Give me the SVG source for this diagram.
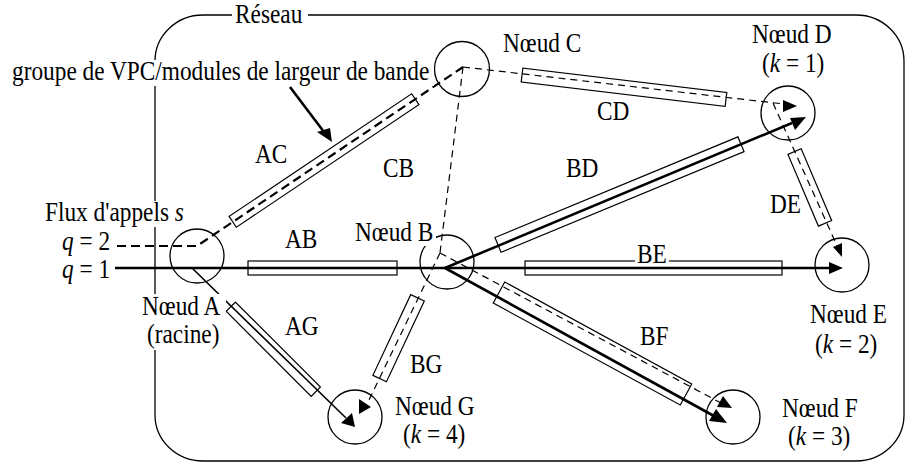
<svg xmlns="http://www.w3.org/2000/svg" width="909" height="463" viewBox="0 0 909 463">
<style>
.frame{fill:none;stroke:#000;stroke-width:1.3}
.n circle{fill:none;stroke:#000;stroke-width:1.3}
.t{font-family:"Liberation Serif","Times New Roman",serif;font-size:26.5px;fill:#000}
.i{font-style:italic}
.bg{fill:#fff}
.bar{fill:none;stroke:#000;stroke-width:1.2}
.ln{fill:none;stroke:#000}
.thin{stroke-width:1.2;stroke-dasharray:7 5}
.q2{stroke-width:2.2;stroke-dasharray:9 5}
.q1{stroke-width:2.6}
.med{stroke-width:1.6}
.ah{fill:#000}
</style>
<rect class="frame" x="155" y="15" width="749" height="446" rx="48" ry="46"/>

<g id="bars">
<rect class="bar" x="248" y="261" width="149" height="14"/>
<rect class="bar" x="525" y="261" width="257" height="14"/>
<rect class="bar" x="-110" y="-6.5" width="220" height="13" transform="translate(324,160.5) rotate(-33.9)"/>
<rect class="bar" x="-102.7" y="-7" width="205.4" height="14" transform="translate(624,87.2) rotate(6.8)"/>
<rect class="bar" x="-39" y="-7.2" width="78" height="14.4" transform="translate(809.8,187.4) rotate(67)"/>
<rect class="bar" x="-131.5" y="-8" width="263" height="16" transform="translate(619.5,194.6) rotate(-22.5)"/>
<rect class="bar" x="-106.5" y="-12" width="213" height="24" transform="translate(592.5,343.5) rotate(28.6)"/>
<rect class="bar" x="-60.1" y="-6.5" width="120.2" height="13" transform="translate(273.3,349.2) rotate(45)"/>
<rect class="bar" x="-44.6" y="-7.5" width="89.2" height="15" transform="translate(398.6,338.2) rotate(115.1)"/>
</g>

<g id="connectors">
<path class="ln q2" d="M117,246 L197,246 L463,67"/>
<path class="ln thin" d="M463,67 L784,104"/>
<path class="ln thin" d="M463,67 L440,253"/>
<path class="ln thin" d="M440,253 L369,400"/>
<path class="ln thin" d="M440,253 L721,403"/>
<path class="ln thin" d="M773,103 L838,248"/>
<path class="ln q1" d="M115,268 L831,268"/>
<path class="ln q1" d="M445,268 L792,123"/>
<path class="ln q1" d="M445,268 L714,416"/>
<path class="ln med" d="M192,268 L346,418"/>
<path class="ln q1" d="M290,87 L324,132"/>
<polygon class="ah" points="829,262 829,274 843,268"/>
<polygon class="ah" points="833,247 842,243 842,257"/>
<polygon class="ah" points="783,100 783,112 797,106"/>
<polygon class="ah" points="790,118 806,117 795,130"/>
<polygon class="ah" points="341,423 355,427 352,413"/>
<polygon class="ah" points="359,399 359,414 371,407"/>
<polygon class="ah" points="717,407 723,396 732,408"/>
<polygon class="ah" points="709,421 716,409 727,423"/>
<polygon class="ah" points="317,132 330,128 332,142"/>
</g>

<g id="nodeA" class="n"><circle cx="197" cy="256" r="27"/></g>
<g id="nodeB" class="n"><circle cx="447" cy="262" r="27"/></g>
<g id="nodeC" class="n"><circle cx="462" cy="69" r="27.5"/></g>
<g id="nodeD" class="n"><circle cx="788" cy="113" r="27"/></g>
<g id="nodeE" class="n"><circle cx="842" cy="265" r="27"/></g>
<g id="nodeF" class="n"><circle cx="733" cy="417" r="27"/></g>
<g id="nodeG" class="n"><circle cx="355" cy="417" r="27"/></g>

<g id="labels">
<rect class="bg" x="232" y="4" width="76" height="23"/>
<text class="t" transform="translate(235,23) scale(0.88,1)">Réseau</text>
<rect class="bg" x="10" y="60" width="424" height="26"/>
<text class="t" transform="translate(12,80) scale(0.88,1)">groupe de VPC/modules de largeur de bande</text>
<rect class="bg" x="43" y="201" width="144" height="26"/>
<text class="t" transform="translate(45,221) scale(0.88,1)">Flux d'appels <tspan class="i">s</tspan></text>
<text class="t" transform="translate(62,250) scale(0.88,1)"><tspan class="i">q</tspan> = 2</text>
<text class="t" transform="translate(62,278) scale(0.88,1)"><tspan class="i">q</tspan> = 1</text>
<rect class="bg" x="352" y="222" width="84" height="24"/>
<text class="t" transform="translate(355,241) scale(0.88,1)">Nœud B</text>
<rect class="bg" x="140" y="294" width="86" height="56"/>
<text class="t" transform="translate(142,315) scale(0.88,1)">Nœud A</text>
<text class="t" transform="translate(147,343) scale(0.88,1)">(racine)</text>
<text class="t" transform="translate(503,52) scale(0.88,1)">Nœud C</text>
<text class="t" transform="translate(752,43) scale(0.88,1)">Nœud D</text>
<text class="t" transform="translate(762,72) scale(0.88,1)">(<tspan class="i">k</tspan> = 1)</text>
<text class="t" transform="translate(810,323) scale(0.88,1)">Nœud E</text>
<text class="t" transform="translate(815,353) scale(0.88,1)">(<tspan class="i">k</tspan> = 2)</text>
<text class="t" transform="translate(782,417) scale(0.88,1)">Nœud F</text>
<text class="t" transform="translate(788,445) scale(0.88,1)">(<tspan class="i">k</tspan> = 3)</text>
<text class="t" transform="translate(395,415) scale(0.88,1)">Nœud G</text>
<text class="t" transform="translate(403,443) scale(0.88,1)">(<tspan class="i">k</tspan> = 4)</text>
<text class="t" transform="translate(255,163) scale(0.88,1)">AC</text>
<text class="t" transform="translate(597,120) scale(0.88,1)">CD</text>
<text class="t" transform="translate(383,177) scale(0.88,1)">CB</text>
<text class="t" transform="translate(566,177) scale(0.88,1)">BD</text>
<text class="t" transform="translate(770,213) scale(0.88,1)">DE</text>
<text class="t" transform="translate(285,248) scale(0.88,1)">AB</text>
<rect class="bg" x="635" y="244" width="34" height="22"/>
<text class="t" transform="translate(637,263) scale(0.88,1)">BE</text>
<text class="t" transform="translate(285,335) scale(0.88,1)">AG</text>
<text class="t" transform="translate(410,373) scale(0.88,1)">BG</text>
<text class="t" transform="translate(640,345) scale(0.88,1)">BF</text>
</g>
</svg>
